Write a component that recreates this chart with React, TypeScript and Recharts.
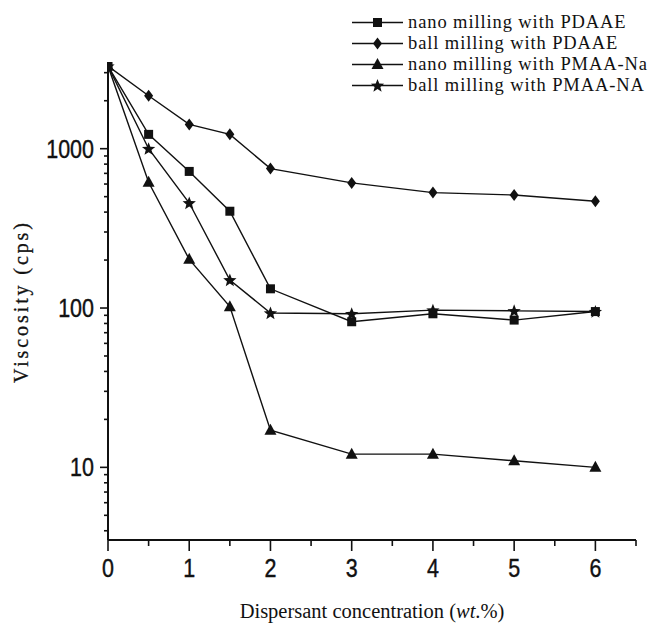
import React from "react";
import { LineChart, Line, XAxis, YAxis } from "recharts";

const concentrations = [0, 0.5, 1, 1.5, 2, 3, 4, 5, 6];
const nanoPDAAE = [3300, 1230, 720, 405, 132, 82, 92, 84, 95];
const ballPDAAE = [3300, 2150, 1420, 1230, 750, 610, 530, 512, 468];
const nanoPMAA = [3300, 615, 202, 102, 17.1, 12.1, 12.1, 11.0, 10.0];
const ballPMAA = [3300, 1000, 456, 150, 93, 92, 97, 96, 95];

const seriesNames = [
  "nano milling with PDAAE",
  "ball milling with PDAAE",
  "nano milling with PMAA-Na",
  "ball milling with PMAA-NA",
];
const seriesKeys = ["nanoPDAAE", "ballPDAAE", "nanoPMAA", "ballPMAA"];
const seriesShapes = ["square", "diamond", "triangle", "star"];

const xTicks = [0, 0.5, 1, 1.5, 2, 2.5, 3, 3.5, 4, 4.5, 5, 5.5, 6, 6.5];
const yTicks = [4, 5, 6, 7, 8, 9, 10, 20, 30, 40, 50, 60, 70, 80, 90, 100, 200, 300, 400, 500, 600, 700, 800, 900, 1000, 2000, 3000];
const yMajor = [10, 100, 1000];

const data = concentrations.map((c, i) => ({
  x: c,
  nanoPDAAE: nanoPDAAE[i],
  ballPDAAE: ballPDAAE[i],
  nanoPMAA: nanoPMAA[i],
  ballPMAA: ballPMAA[i],
}));

function starPoints(cx: number, cy: number, R: number, r: number) {
  const pts: string[] = [];
  for (let i = 0; i < 10; i++) {
    const ang = -Math.PI / 2 + (i * Math.PI) / 5;
    const rad = i % 2 === 0 ? R : r;
    pts.push(`${cx + rad * Math.cos(ang)},${cy + rad * Math.sin(ang)}`);
  }
  return pts.join(" ");
}

function Marker({ shape, cx, cy }: { shape: string; cx: number; cy: number }) {
  if (cx == null || cy == null || isNaN(cx) || isNaN(cy)) return null;
  if (shape === "square") {
    return <rect x={cx - 4.5} y={cy - 4.5} width={9} height={9} fill="#111" />;
  }
  if (shape === "diamond") {
    return (
      <polygon
        points={`${cx},${cy - 6} ${cx + 4.5},${cy} ${cx},${cy + 6} ${cx - 4.5},${cy}`}
        fill="#111"
      />
    );
  }
  if (shape === "triangle") {
    return (
      <polygon
        points={`${cx},${cy - 6.5} ${cx + 6},${cy + 4.5} ${cx - 6},${cy + 4.5}`}
        fill="#111"
      />
    );
  }
  return <polygon points={starPoints(cx, cy + 0.5, 7, 3)} fill="#111" />;
}

const makeDot = (shape: string) => (props: any) => (
  <Marker key={`${shape}-${props.index}`} shape={shape} cx={props.cx} cy={props.cy} />
);

const tickFont = "'Liberation Sans', Arial, sans-serif";

const YTick = (props: any) => {
  const { x, y, payload } = props;
  const v = payload.value;
  const major = yMajor.includes(v);
  return (
    <g>
      <line x1={x - (major ? 8 : 4)} x2={x} y1={y} y2={y} stroke="#111" strokeWidth={1.6} />
      {major && (
        <text
          transform={`translate(${x - 14},${y}) scale(0.86,1)`}
          x={0}
          y={0}
          dy={9}
          textAnchor="end"
          fontSize={25}
          fontFamily={tickFont}
          fill="#111"
          stroke="#111"
          strokeWidth={0.4}
        >
          {v}
        </text>
      )}
    </g>
  );
};

const XTick = (props: any) => {
  const { x, y, payload } = props;
  const v = payload.value;
  const major = Number.isInteger(v);
  return (
    <g>
      <line x1={x} x2={x} y1={y} y2={y + (major ? 11 : 6)} stroke="#111" strokeWidth={1.6} />
      {major && (
        <text
          transform={`translate(${x},${y + 28}) scale(0.86,1)`}
          x={0}
          y={0}
          dy={9}
          textAnchor="middle"
          fontSize={25}
          fontFamily={tickFont}
          fill="#111"
          stroke="#111"
          strokeWidth={0.4}
        >
          {v}
        </text>
      )}
    </g>
  );
};

const XLabel = (props: any) => {
  const vb = props.viewBox || { x: 108, y: 540, width: 528, height: 87 };
  const cx = vb.x + vb.width / 2;
  return (
    <text
      x={cx}
      y={vb.y + 78}
      textAnchor="middle"
      fontSize={20.5}
      fontFamily="'Liberation Serif', 'Times New Roman', serif"
      fill="#111"
    >
      Dispersant concentration (<tspan fontStyle="italic">wt</tspan>.%)
    </text>
  );
};

const YLabel = (props: any) => {
  const vb = props.viewBox || { x: 0, y: 62, width: 108, height: 478 };
  const cy = vb.y + vb.height / 2 + 2;
  const cx = 22;
  return (
    <text
      transform={`translate(${cx},${cy}) rotate(-90)`}
      x={0}
      y={0}
      dy={6}
      textAnchor="middle"
      fontSize={20}
      textLength={160}
      lengthAdjust="spacing"
      fontFamily="'Liberation Serif', 'Times New Roman', serif"
      fill="#111"
      stroke="#111"
      strokeWidth={0.3}
    >
      Viscosity (cps)
    </text>
  );
};

const LegendBox = () => (
  <div style={{ position: "absolute", left: 352, top: 12, display: "flex", flexDirection: "column" }}>
    {seriesNames.map((name, i) => (
      <div key={name} style={{ display: "flex", alignItems: "center", height: 21 }}>
        <svg width={56} height={21} style={{ display: "block" }}>
          <line x1={0} x2={51} y1={10.5} y2={10.5} stroke="#111" strokeWidth={1.6} />
          <Marker shape={seriesShapes[i]} cx={25.5} cy={10.5} />
        </svg>
        <span
          style={{
            fontFamily: "'Liberation Serif', 'Times New Roman', serif",
            fontSize: 18.5,
            letterSpacing: 0.9,
            color: "#111",
            whiteSpace: "nowrap",
            lineHeight: "21px",
          }}
        >
          {name}
        </span>
      </div>
    ))}
  </div>
);

export default function App() {
  return (
    <div style={{ position: "absolute", left: 0, top: 0, width: 655, height: 627, background: "#fff" }}>
      <LineChart
        width={655}
        height={627}
        data={data}
        margin={{ top: 62, right: 19, left: 0, bottom: 0 }}
      >
        <XAxis
          dataKey="x"
          type="number"
          domain={[0, 6.5]}
          ticks={xTicks}
          interval={0}
          tick={<XTick />}
          tickLine={false}
          tickSize={0}
          tickMargin={0}
          height={87}
          axisLine={{ stroke: "#111", strokeWidth: 2 }}
          allowDataOverflow
          label={<XLabel />}
        />
        <YAxis
          type="number"
          scale="log"
          domain={[3.5, 3500]}
          ticks={yTicks}
          interval={0}
          tick={<YTick />}
          tickLine={false}
          tickSize={0}
          tickMargin={0}
          width={108}
          axisLine={{ stroke: "#111", strokeWidth: 2 }}
          allowDataOverflow
          label={<YLabel />}
        />
        {seriesKeys.map((k, i) => (
          <Line
            key={k}
            dataKey={k}
            name={seriesNames[i]}
            type="linear"
            stroke="#111"
            strokeWidth={1.4}
            dot={makeDot(seriesShapes[i])}
            activeDot={false}
            isAnimationActive={false}
          />
        ))}
      </LineChart>
      <LegendBox />
    </div>
  );
}
